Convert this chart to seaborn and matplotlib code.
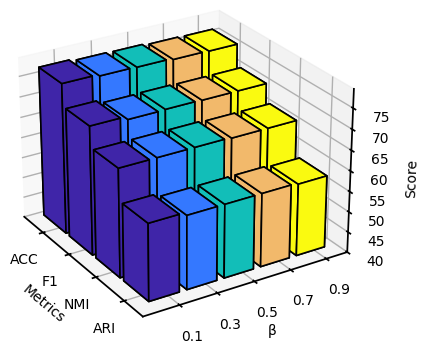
import matplotlib
matplotlib.use("Agg")
import matplotlib.pyplot as plt
import matplotlib.transforms as mtransforms
import numpy as np
import seaborn as sns

beta = ["0.1", "0.3", "0.5", "0.7", "0.9"]
metrics = ["ACC", "F1", "NMI", "ARI"]
score_acc = [76.8, 76.4, 76.3, 76.0, 75.9]
score_f1 = [71.4, 70.6, 70.7, 70.6, 70.6]
score_nmi = [66.4, 66.4, 66.4, 66.2, 66.2]
score_ari = [58.7, 57.9, 57.9, 57.9, 57.6]
colors = ["#3F25A8", "#3478FF", "#12BEB8", "#F2B96B", "#FAFA10"]

sns.set_context("notebook", rc={"font.size": 10, "axes.labelsize": 10,
                                "xtick.labelsize": 10, "ytick.labelsize": 10})
palette = sns.color_palette(colors)
scores = np.array([score_acc, score_f1, score_nmi, score_ari])

fig = plt.figure(figsize=(4.3, 3.64), dpi=100)
ax = fig.add_axes([-0.096, 0.05, 1.02, 1.02], projection="3d")

# draw from the back row forward so the faces overlap properly
for i, row in enumerate(scores):
    for j, val in enumerate(row):
        ax.bar3d(i - 0.62, j - 0.5, 40, 0.87, 0.8, val - 40,
                 color=palette[j], edgecolor="black", shade=False, linewidth=1.2)

ax.set_xticks(range(len(metrics)))
ax.set_xticklabels(metrics)
ax.set_yticks(range(len(beta)))
ax.set_yticklabels(beta)
ax.set_zticks(range(40, 80, 5))
ax.set_xlim(-0.75, 3.64)
ax.set_ylim(-0.95, 4.6)
ax.set_zlim(40, 79.5)
ax.set_xlabel("Metrics")
ax.set_ylabel("β")
ax.set_zlabel("Score")
ax.tick_params(axis="x", pad=5)
ax.tick_params(axis="y", pad=5)
ax.view_init(elev=26, azim=-32)

# nudge the tick labels sideways a few pixels
for lab in ax.get_xticklabels():
    lab.set_transform(lab.get_transform() + mtransforms.Affine2D().translate(3.5, 0))
for lab in ax.get_yticklabels():
    lab.set_transform(lab.get_transform() + mtransforms.Affine2D().translate(-4.5, 0))

fig.savefig("out.png", dpi=100)
